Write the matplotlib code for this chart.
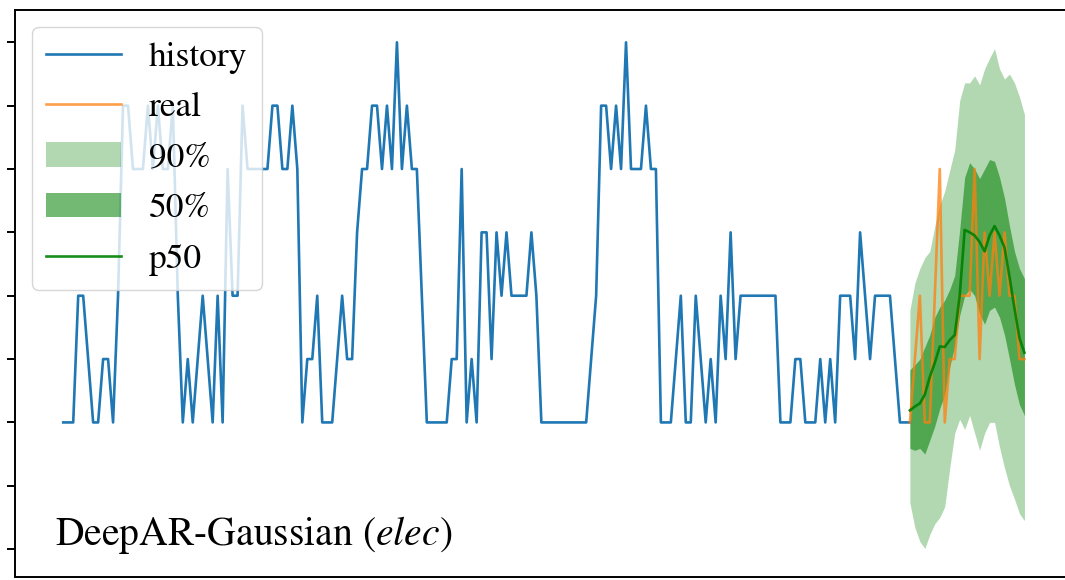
import matplotlib
matplotlib.use("Agg")
import matplotlib.pyplot as plt
import numpy as np

plt.rcParams["font.family"] = "STIXGeneral"
plt.rcParams["mathtext.fontset"] = "stix"

# hourly load, history window (last point shared with the forecast window)
history = [0, 0, 0, 2, 2, 1, 0, 0, 1, 1,
           0, 2, 5, 5, 4, 4, 4, 5, 4, 5,
           4, 4, 5, 2, 0, 1, 0, 1, 2, 1,
           0, 2, 0, 4, 2, 2, 5, 4, 4, 4,
           4, 4, 5, 5, 4, 4, 5, 4, 0, 1,
           1, 2, 0, 0, 0, 1, 2, 1, 1, 3,
           4, 4, 5, 5, 4, 5, 4, 6, 4, 5,
           4, 4, 2, 0, 0, 0, 0, 0, 1, 1,
           4, 0, 1, 0, 3, 3, 1, 3, 2, 3,
           2, 2, 2, 2, 3, 2, 0, 0, 0, 0,
           0, 0, 0, 0, 0, 0, 1, 2, 5, 5,
           4, 5, 4, 6, 4, 4, 4, 5, 4, 4,
           0, 0, 0, 1, 2, 0, 0, 2, 1, 0,
           1, 0, 2, 1, 3, 1, 2, 2, 2, 2,
           2, 2, 2, 2, 0, 0, 0, 1, 1, 0,
           0, 0, 1, 0, 1, 0, 2, 2, 2, 1,
           3, 2, 1, 2, 2, 2, 2, 1, 0, 0,
           0]

# forecast window (24 steps)
real = [0, 1, 2, 0, 0, 2, 4, 0, 1, 1, 2, 2,
        2, 4, 1, 3, 2, 3, 2, 3, 2, 2, 1, 1]
p50 = [0.19, 0.25, 0.30, 0.44, 0.72, 0.94, 1.20, 1.19, 1.30, 1.38, 2.00, 3.04,
       3.00, 2.95, 2.85, 2.70, 2.95, 3.10, 2.95, 2.76, 2.30, 1.80, 1.33, 1.10]
q25 = [-0.41, -0.44, -0.41, -0.50, -0.28, -0.06, 0.22, 0.44, 0.88, 1.20, 1.69, 2.00,
       2.10, 2.00, 1.71, 1.55, 1.77, 1.82, 1.66, 1.38, 1.00, 0.60, 0.28, 0.11]
q75 = [0.83, 0.91, 1.00, 1.19, 1.38, 1.66, 1.82, 1.93, 2.10, 2.32, 3.04, 3.87,
       4.10, 4.00, 3.85, 4.00, 4.15, 4.12, 3.87, 3.54, 3.10, 2.70, 2.43, 2.27]
q05 = [-1.27, -1.66, -1.88, -1.99, -1.77, -1.60, -1.50, -1.33, -0.72, -0.17, 0.05, -0.11,
       0.11, -0.17, -0.44, -0.17, 0.00, 0.00, -0.39, -0.72, -1.00, -1.21, -1.44, -1.55]
q95 = [1.77, 2.20, 2.43, 2.60, 2.70, 3.10, 3.43, 3.65, 3.98, 4.30, 5.08, 5.36,
       5.36, 5.47, 5.33, 5.58, 5.75, 5.90, 5.58, 5.42, 5.50, 5.36, 5.14, 4.86]

x_hist = np.arange(len(history))
x_pred = np.arange(len(history) - 1, len(history) - 1 + len(real))

fig = plt.figure(figsize=(10.65, 5.8), dpi=100)
ax = fig.add_axes([15.2 / 1065, 3 / 580, 1057.3 / 1065, 567 / 580])

ax.plot(x_hist, history, color="tab:blue", lw=1.9, label="history")
ax.plot(x_pred, real, color="tab:orange", alpha=0.75, lw=1.9, label="real")
ax.fill_between(x_pred, q05, q95, color="green", alpha=0.3, lw=0, label="90%")
ax.fill_between(x_pred, q25, q75, color="green", alpha=0.55, lw=0, label="50%")
ax.plot(x_pred, p50, color="green", alpha=0.9, lw=1.9, label="p50")

ax.set_xlim(-9.65, 202.65)
ax.set_ylim(-2.44, 6.51)
ax.set_xticks([])
ax.set_yticks(range(-2, 7))
ax.set_yticklabels([])
ax.tick_params(axis="y", length=6, width=1.4)
for s in ax.spines.values():
    s.set_linewidth(1.4)

ax.legend(loc="upper left", fontsize=25.5, handlelength=2.1, borderaxespad=0.48)
ax.text(0.038, 0.056, r"DeepAR-Gaussian ($elec$)", transform=ax.transAxes,
        fontsize=28.5, ha="left", va="baseline")

fig.savefig("out.png", dpi=100)
